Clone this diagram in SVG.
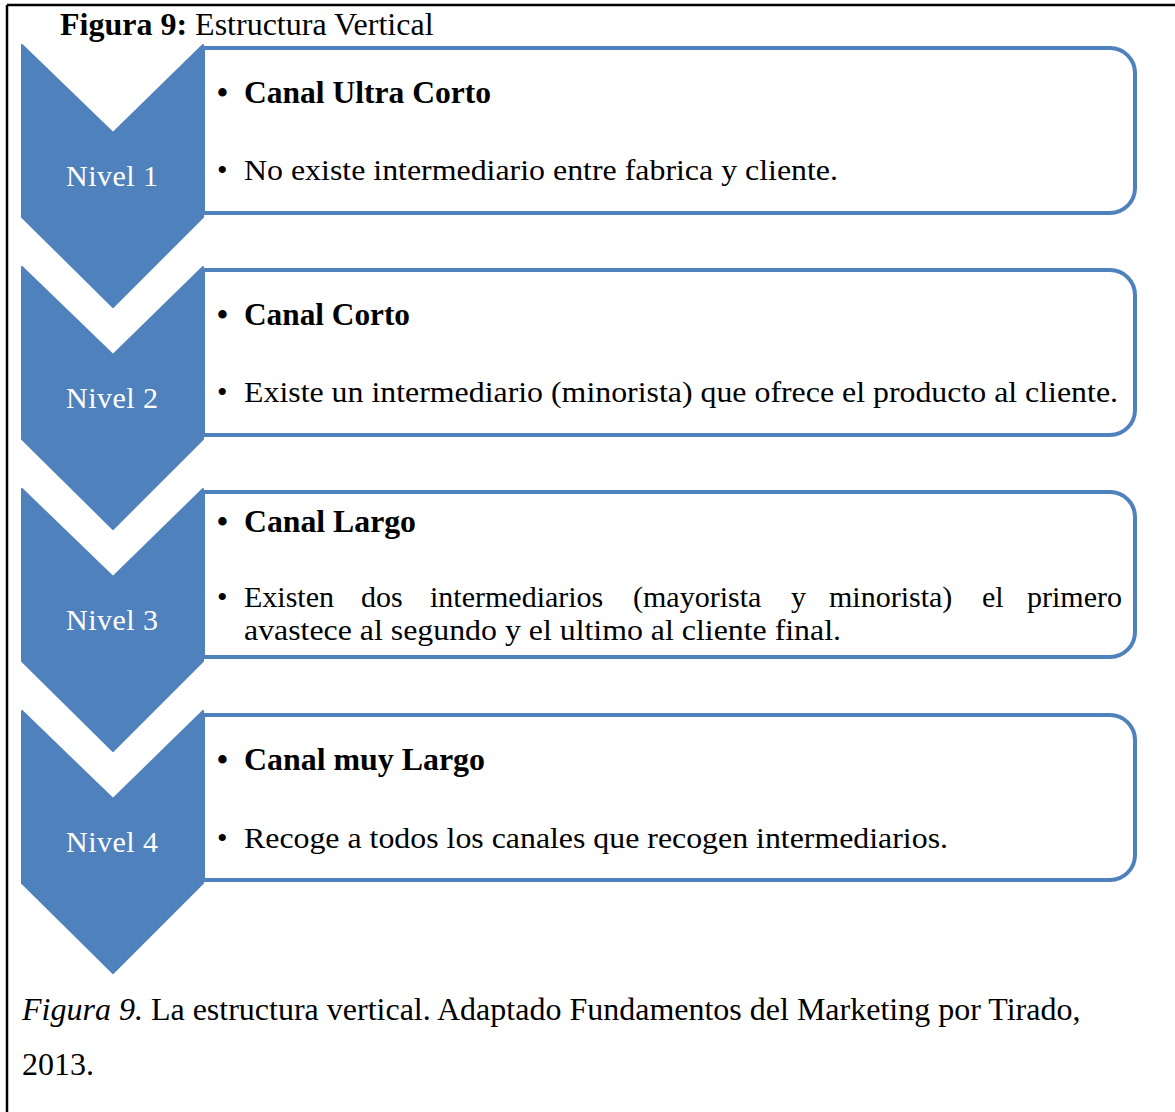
<svg xmlns="http://www.w3.org/2000/svg" width="1175" height="1112" viewBox="0 0 1175 1112">
<style>
.chev{fill:#4F81BD;stroke:#4F81BD;stroke-width:2;stroke-linejoin:round}
.box{fill:#fff;stroke:#4F81BD;stroke-width:4}
.lvl{font-family:"Liberation Serif",serif;font-size:30px;fill:#fff;text-anchor:middle}
.b{font-family:"Liberation Serif",serif;font-size:31px;font-weight:bold;fill:#000}
.r{font-family:"Liberation Serif",serif;font-size:30px;fill:#000}
.t{font-family:"Liberation Serif",serif;font-size:32px;fill:#000}
</style>
<rect x="0" y="0" width="1175" height="1112" fill="#fff"/>
<g id="frame">
<line x1="7" y1="5" x2="1175" y2="5" stroke="#000" stroke-width="2.5"/>
<line x1="7" y1="5" x2="7" y2="1112" stroke="#000" stroke-width="2.5"/>
</g>
<text id="title" class="t" x="60" y="35"><tspan font-weight="bold">Figura 9:</tspan> Estructura Vertical</text>

<g id="level1">
<path class="box" d="M203,48 H1110 A25,25 0 0 1 1135,73 V188 A25,25 0 0 1 1110,213 H203 Z"/>
<polygon class="chev" points="22,45 113,133 203,45 203,217 113,307 22,217"/>
<text class="lvl" x="112" y="186" textLength="92">Nivel 1</text>
<text class="b" x="217" y="103">•</text>
<text class="b" x="244" y="103" textLength="247" lengthAdjust="spacingAndGlyphs">Canal Ultra Corto</text>
<text class="r" x="217" y="180">•</text>
<text class="r" x="244" y="180" textLength="594" lengthAdjust="spacingAndGlyphs">No existe intermediario entre fabrica y cliente.</text>
</g>

<g id="level2">
<path class="box" d="M203,270 H1110 A25,25 0 0 1 1135,295 V410 A25,25 0 0 1 1110,435 H203 Z"/>
<polygon class="chev" points="22,267 113,355 203,267 203,439 113,529 22,439"/>
<text class="lvl" x="112" y="408" textLength="92">Nivel 2</text>
<text class="b" x="217" y="325">•</text>
<text class="b" x="244" y="325" textLength="166" lengthAdjust="spacingAndGlyphs">Canal Corto</text>
<text class="r" x="217" y="402">•</text>
<text class="r" x="244" y="402" textLength="874" lengthAdjust="spacingAndGlyphs">Existe un intermediario (minorista) que ofrece el producto al cliente.</text>
</g>

<g id="level3">
<path class="box" d="M203,492 H1110 A25,25 0 0 1 1135,517 V632 A25,25 0 0 1 1110,657 H203 Z"/>
<polygon class="chev" points="22,489 113,577 203,489 203,661 113,751 22,661"/>
<text class="lvl" x="112" y="630" textLength="92">Nivel 3</text>
<text class="b" x="217" y="532">•</text>
<text class="b" x="244" y="532" textLength="172" lengthAdjust="spacingAndGlyphs">Canal Largo</text>
<text class="r" x="217" y="607">•</text>
<text class="r" y="607"><tspan x="244">Existen</tspan><tspan x="361">dos</tspan><tspan x="430">intermediarios</tspan><tspan x="633">(mayorista</tspan><tspan x="791">y</tspan><tspan x="829">minorista)</tspan><tspan x="982">el</tspan><tspan x="1027">primero</tspan></text>
<text class="r" x="244" y="640" textLength="597" lengthAdjust="spacingAndGlyphs">avastece al segundo y el ultimo al cliente final.</text>
</g>

<g id="level4">
<path class="box" d="M203,715 H1110 A25,25 0 0 1 1135,740 V855 A25,25 0 0 1 1110,880 H203 Z"/>
<polygon class="chev" points="22,711 113,799 203,711 203,883 113,973 22,883"/>
<text class="lvl" x="112" y="852" textLength="92">Nivel 4</text>
<text class="b" x="217" y="770">•</text>
<text class="b" x="244" y="770" textLength="241" lengthAdjust="spacingAndGlyphs">Canal muy Largo</text>
<text class="r" x="217" y="848">•</text>
<text class="r" x="244" y="848" textLength="704" lengthAdjust="spacingAndGlyphs">Recoge a todos los canales que recogen intermediarios.</text>
</g>

<g id="connectors"></g>

<g id="caption">
<text class="t" x="22" y="1020"><tspan font-style="italic">Figura 9.</tspan> La estructura vertical. Adaptado Fundamentos del Marketing por Tirado,</text>
<text class="t" x="22" y="1075">2013.</text>
</g>
</svg>
